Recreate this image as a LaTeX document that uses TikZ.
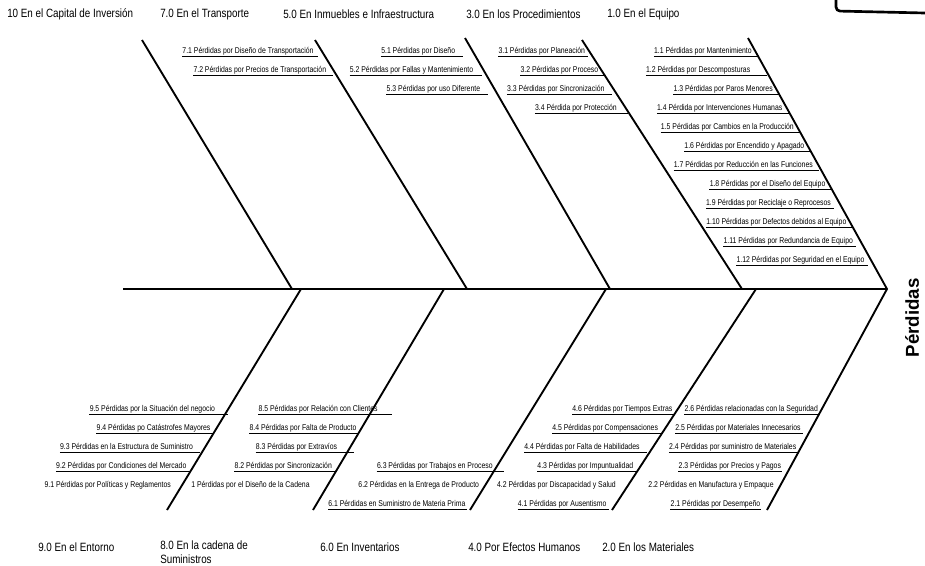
\documentclass[tikz,border=0pt]{standalone}
\usepackage{fontspec}
\setmainfont[FakeStretch=0.82]{Liberation Sans}
\newfontfamily\effectfont{Liberation Sans}
\usetikzlibrary{positioning,calc}
\tikzset{
	bone/.style = {line width=1.4pt},
	spine/.style = {line width=2.2pt},
	cat/.style = {inner sep=0pt, anchor=west, font=\fontsize{9}{10.5}\selectfont},
	cause/.style = {inner xsep=0pt, inner ysep=0.4pt, anchor=south east,
		text depth=1.2pt, font=\fontsize{6.3}{7}\selectfont},
	uline/.style = {draw, line width=0.45pt},
	noline/.style = {},
}
% #1 bone, #2 underline style, #3 name/y/gap/line end/text
\newcommand{\causes}[3]{%
	\foreach \n/\y/\g/\e/\t in {#3}{
		\coordinate (\n-b) at (intersection of #1a--#1b and 0,\y--10,\y);
		\node[cause] (\n) at ($(\n-b)-(\g,0)$) {\t};
		\path[#2] (\n.south west) -- ($(\n-b)-(\e,0)$);
	}
}

\begin{document}
\begin{tikzpicture}[x=0.75pt, y=-0.75pt]
	\useasboundingbox (0,0) rectangle (925,565);
	% bones
	\coordinate (T1a) at (142,40);  \coordinate (T1b) at (292,289);
	\coordinate (T2a) at (315,40);  \coordinate (T2b) at (467,289);
	\coordinate (T3a) at (465,38);  \coordinate (T3b) at (610,289);
	\coordinate (T4a) at (582,40);  \coordinate (T4b) at (742,289);
	\coordinate (HTa) at (748,38);  \coordinate (HTb) at (887,289);
	\coordinate (HBa) at (887,289); \coordinate (HBb) at (767,510);
	\coordinate (tail) at (123,289);
	\coordinate (B1a) at (301,289); \coordinate (B1b) at (167,510);
	\coordinate (B2a) at (444,289); \coordinate (B2b) at (313,510);
	\coordinate (B3a) at (606,289); \coordinate (B3b) at (470,510);
	\coordinate (B4a) at (756,289); \coordinate (B4b) at (612,510);
	\draw[spine] (tail) -- (HTb);
	\draw[bone] (T1a) -- (T1b);
	\draw[bone] (T2a) -- (T2b);
	\draw[bone] (T3a) -- (T3b);
	\draw[bone] (T4a) -- (T4b);
	\draw[bone] (HTa) -- (HTb) -- (HBb);
	\draw[bone] (B1a) -- (B1b);
	\draw[bone] (B2a) -- (B2b);
	\draw[bone] (B3a) -- (B3b);
	\draw[bone] (B4a) -- (B4b);
	\draw[line width=2pt, rounded corners=3pt] (836,0) -- (836,11) -- (925,13);

	% categories
	\node[cat] (cap) at (7,14) {10 En el Capital de Inversión};
	\node[cat] (tra) at (160,14) {7.0 En el Transporte};
	\node[cat] (inm) at (283,14) {5.0 En Inmuebles e Infraestructura};
	\node[cat] (pro) at (466,14) {3.0 En los Procedimientos};
	\node[cat] (equ) at (607,14) {1.0 En el Equipo};
	\node[cat] (ent) at (38,547) {9.0 En el Entorno};
	\node[cat, anchor=north west, align=left] (cad) at (160,541) {8.0 En la cadena de\\Suministros};
	\node[cat] (inv) at (320,547) {6.0 En Inventarios};
	\node[cat] (hum) at (468,547) {4.0 Por Efectos Humanos};
	\node[cat] (mat) at (602,547) {2.0 En los Materiales};
	\node[rotate=90, inner sep=0pt, font=\effectfont\bfseries\fontsize{14}{16}\selectfont] (perd) at (912,318) {Pérdidas};

	% causes
	\causes{T2}{uline}{c71/56/11/7/7.1 Pérdidas por Diseño de Transportación,
		c72/75/10/3/7.2 Pérdidas por Precios de Transportación}
	\causes{T3}{uline}{c51/56/20/12/5.1 Pérdidas por Diseño,
		c52/75/13/4/5.2 Pérdidas por Fallas y Mantenimiento,
		c53/94/17/9/5.3 Pérdidas por uso Diferente}
	\causes{T4}{uline}{c31/56/7/4/3.1 Pérdidas por Planeación,
		c32/75/6/0/3.2 Pérdidas por Proceso,
		c33/94/12/5/3.3 Pérdidas por Sincronización,
		c34/113/12/1/3.4 Pérdida por Protección}
	\causes{HT}{uline}{c11/56/6/0/1.1 Pérdidas por Mantenimiento,
		c12/75/18/2/1.2 Pérdidas por Descomposturas,
		c13/94/6/0/1.3 Pérdidas por Paros Menores,
		c14/113/7/1/1.4 Pérdida por Intervenciones Humanas,
		c15/132/6/0/1.5 Pérdidas por Cambios en la Producción,
		c16/151/6/0/1.6 Pérdidas por Encendido y Apagado,
		c17/170/8/2/1.7 Pérdidas por Reducción en las Funciones,
		c18/189/6/0/1.8 Pérdidas por el Diseño del Equipo,
		c19/208/11/8/1.9 Pérdidas por Reciclaje o Reprocesos,
		c110/227/6/0/1.10 Pérdidas por Defectos debidos al Equipo,
		c111/246/10/7/1.11 Pérdidas por Redundancia de Equipo,
		c112/265/9/6/1.12 Pérdidas por Seguridad en el Equipo}
	\causes{B1}{uline}{c95/414/10/-3/9.5 Pérdidas por la Situación del negocio,
		c94/433/3/0/9.4 Pérdidas po Catástrofes Mayores,
		c93/452/9/2/9.3 Pérdidas en la Estructura de Suministro,
		c92/471/4/0/9.2 Pérdidas por Condiciones del Mercado}
	\causes{B1}{noline}{c91/490/8/8/9.1 Pérdidas por Políticas y Reglamentos}
	\causes{B2}{uline}{c85/414/-8/-22/8.5 Pérdidas por Relación con Clientes,
		c84/433/2/0/8.4 Pérdidas por Falta de Producto,
		c83/452/10/-7/8.3 Pérdidas por Extravíos,
		c82/471/4/0/8.2 Pérdidas por Sincronización}
	\causes{B2}{noline}{c81/490/15/15/1 Pérdidas por el Diseño de la Cadena}
	\causes{B3}{uline}{c63/471/1/-10/6.3 Pérdidas por Trabajos en Proceso,
		c61/509/5/4/6.1 Pérdidas en Suministro de Materia Prima}
	\causes{B3}{noline}{c62/490/3/3/6.2 Pérdidas en la Entrega de Producto}
	\causes{B4}{uline}{c46/414/2/0/4.6 Pérdidas por Tiempos Extras,
		c45/433/4/0/4.5 Pérdidas por Compensaciones,
		c44/452/10/3/4.4 Pérdidas por Falta de Habilidades,
		c43/471/4/0/4.3 Pérdidas por Impuntualidad,
		c41/509/6/4/4.1 Pérdidas por Ausentismo}
	\causes{B4}{noline}{c42/490/9/9/4.2 Pérdidas por Discapacidad y Salud}
	\causes{HB}{uline}{c26/414/1/0/2.6 Pérdidas relacionadas con la Seguridad,
		c25/433/8/6/2.5 Pérdidas por Materiales Innecesarios,
		c24/452/2/0/2.4 Pérdidas por suministro de Materiales,
		c23/471/7/6/2.3 Pérdidas por Precios y Pagos,
		c21/509/7/7/2.1 Pérdidas por Desempeño}
	\causes{HB}{noline}{c22/490/4/4/2.2 Pérdidas en Manufactura y Empaque}
\end{tikzpicture}
\end{document}
